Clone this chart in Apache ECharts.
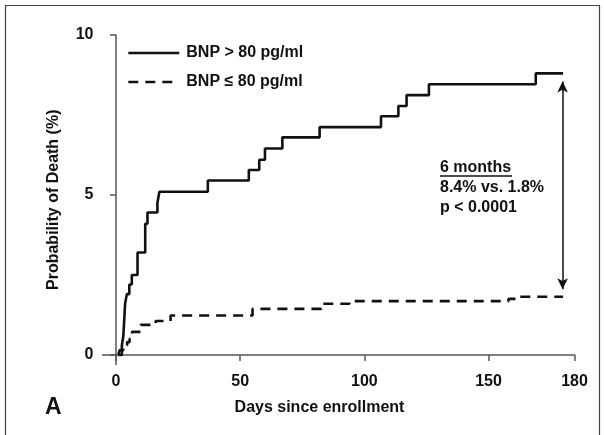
<!DOCTYPE html>
<html>
<head>
<meta charset="utf-8">
<title>BNP</title>
<script src="https://cdn.jsdelivr.net/npm/echarts@6.0.0/dist/echarts.min.js"></script>
<style>
    html, body {margin: 0; padding: 0; background: #fff;}
    #chart {width: 604px; height: 435px;}
</style>
</head>
<body>
<div id="chart"></div>
<script>
// Kaplan-Meier steps (day, probability %)
var highDays = [1, 2.4, 3, 3.7, 4.4, 5.4, 6.4, 8.7, 11.8, 12.7, 16.7, 17.5, 37, 53.5, 57.7, 60, 67, 82, 106.7, 113.7, 117, 126, 169, 180];
var highProb = [0, 0.3, 0.6, 1.6, 1.9, 2.2, 2.5, 3.2, 4.1, 4.45, 4.75, 5.1, 5.45, 5.78, 6.1, 6.45, 6.8, 7.12, 7.46, 7.78, 8.12, 8.46, 8.8, 8.8];
var lowDays = [1, 1.5, 3, 4.5, 5.5, 6.5, 10, 16, 22, 55, 82.7, 94, 158, 162, 180];
var lowProb = [0, 0.15, 0.3, 0.4, 0.5, 0.72, 0.94, 1.06, 1.23, 1.44, 1.6, 1.68, 1.75, 1.82, 1.82];

var seriesNames = ['BNP > 80 pg/ml', 'BNP \u2264 80 pg/ml'];
var xTickValues = [0, 50, 100, 150, 184.6];
var xTickLabels = ['0', '50', '100', '150', '180'];
var yTickValues = [0, 5, 10];
var noteLines = ['6 months', '8.4% vs. 1.8%', 'p < 0.0001'];
// arrow between the two curves at 6 months
var arrowDay = 179.8;
var arrowEnds = [8.55, 2.05];

var font = '"Liberation Sans", Arial, Helvetica, sans-serif';
var ink = '#111';

function toPairs(xs, ys) {
    var out = [];
    xs.forEach(function (x, i) {
        out.push([x, ys[i]]);
    });
    return out;
}

var myEcharts = echarts.init(document.getElementById('chart'), null, {renderer: 'canvas'});

var option = {
    animation: false,
    backgroundColor: '#fff',
    grid: {left: 102.5, right: 29.5, top: 35, bottom: 70.5},
    legend: {
        orient: 'vertical',
        left: 127,
        top: 45,
        padding: 0,
        itemWidth: 51,
        itemHeight: 16,
        itemGap: 13,
        selectedMode: false,
        itemStyle: {opacity: 0},
        lineStyle: {width: 2.6},
        textStyle: {fontFamily: font, fontSize: 16, fontWeight: 'bold', color: ink, padding: [0, 0, 0, 2]},
        data: seriesNames
    },
    xAxis: {
        type: 'value',
        min: -5.4,
        max: 184.6,
        name: 'Days since enrollment',
        nameLocation: 'middle',
        nameGap: 35.5,
        nameTextStyle: {fontFamily: font, fontSize: 16, fontWeight: 'bold', color: ink, padding: [0, 38, 0, 0]},
        splitLine: {show: false},
        axisLine: {lineStyle: {color: '#555', width: 1.5}},
        axisTick: {show: true, length: 6, lineStyle: {color: '#555', width: 1.5}, customValues: xTickValues},
        axisLabel: {
            margin: 9,
            customValues: xTickValues,
            fontFamily: font, fontSize: 16, fontWeight: 'bold', color: ink,
            formatter: function (v) {
                var i = xTickValues.indexOf(v);
                return i >= 0 ? xTickLabels[i] : '';
            }
        }
    },
    yAxis: {
        type: 'value',
        min: -0.3,
        max: 10,
        name: 'Probability of Death (%)',
        nameLocation: 'middle',
        nameGap: 41,
        nameTextStyle: {fontFamily: font, fontSize: 16, fontWeight: 'bold', color: ink},
        splitLine: {show: false},
        axisLine: {show: true, lineStyle: {color: '#555', width: 1.5}},
        axisTick: {show: true, length: 6, lineStyle: {color: '#555', width: 1.5}, customValues: yTickValues},
        axisLabel: {margin: 9, customValues: yTickValues, fontFamily: font, fontSize: 16, fontWeight: 'bold', color: ink}
    },
    series: [
        {
            name: seriesNames[0],
            type: 'line',
            step: 'end',
            symbol: 'none',
            data: toPairs(highDays, highProb),
            lineStyle: {color: ink, width: 2.6},
            itemStyle: {color: ink},
            markLine: {
                silent: true,
                symbol: ['arrow', 'arrow'],
                symbolSize: [8, 11],
                label: {show: false},
                lineStyle: {type: 'solid', color: ink, width: 1.5},
                data: [[{coord: [arrowDay, arrowEnds[0]]}, {coord: [arrowDay, arrowEnds[1]]}]]
            }
        },
        {
            name: seriesNames[1],
            type: 'line',
            step: 'end',
            symbol: 'none',
            data: toPairs(lowDays, lowProb),
            lineStyle: {color: ink, width: 2.6, type: [10, 7]},
            itemStyle: {color: ink}
        }
    ],
    graphic: [
        {type: 'rect', shape: {x: 5.5, y: 5.5, width: 594, height: 432}, style: {fill: null, stroke: '#444', lineWidth: 1.2}},
        {type: 'text', x: 45, y: 408, style: {text: 'A', font: 'bold 23px ' + font, fill: ink, verticalAlign: 'middle'}},
        {type: 'text', x: 440, y: 167.5, style: {text: noteLines[0], font: 'bold 16px ' + font, fill: ink, verticalAlign: 'middle'}},
        {type: 'line', shape: {x1: 440, y1: 176, x2: 512, y2: 176}, style: {stroke: ink, lineWidth: 1.3}},
        {type: 'text', x: 440, y: 187.5, style: {text: noteLines[1], font: 'bold 16px ' + font, fill: ink, verticalAlign: 'middle'}},
        {type: 'text', x: 440, y: 207.5, style: {text: noteLines[2], font: 'bold 16px ' + font, fill: ink, verticalAlign: 'middle'}}
    ]
};
myEcharts.setOption(option);
</script>
</body>
</html>
